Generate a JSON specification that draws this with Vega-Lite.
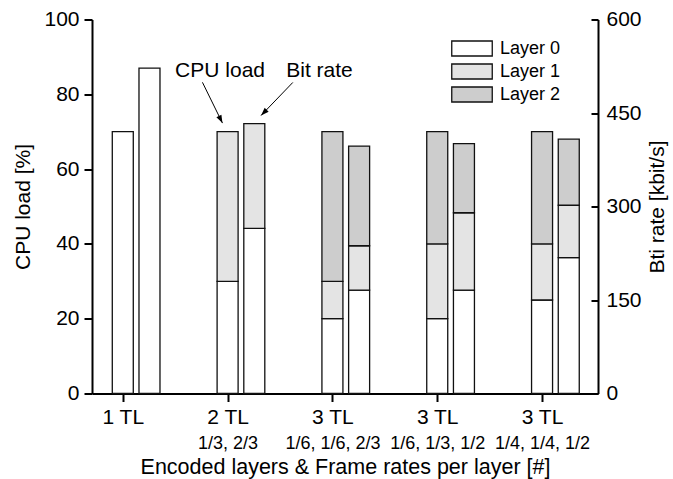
{
  "$schema": "https://vega.github.io/schema/vega-lite/v6.json",
  "width": 506,
  "height": 374,
  "autosize": {"type": "none"},
  "padding": {"left": 92, "top": 19.5, "right": 75, "bottom": 85.5},
  "background": "white",
  "config": {
    "font": "Liberation Sans",
    "view": {"stroke": null},
    "axis": {
      "domainColor": "#000", "domainWidth": 2, "tickColor": "#000", "tickWidth": 2,
      "labelColor": "#000", "titleColor": "#000", "labelFont": "Liberation Sans", "titleFont": "Liberation Sans",
      "labelFontSize": 21, "titleFontSize": 21, "titleFontWeight": "normal", "grid": false,
      "labelOverlap": false, "labelFlush": false, "labelBound": false
    }
  },
  "datasets": {
    "bars": [
      {"cfg": 1, "layers": "1 TL", "rates": "", "measure": "CPU load", "layer": "Layer 0", "value": 70},
      {"cfg": 1, "layers": "1 TL", "rates": "", "measure": "Bit rate", "layer": "Layer 0", "value": 522},
      {"cfg": 2, "layers": "2 TL", "rates": "1/3, 2/3", "measure": "CPU load", "layer": "Layer 0", "value": 30},
      {"cfg": 2, "layers": "2 TL", "rates": "1/3, 2/3", "measure": "CPU load", "layer": "Layer 1", "value": 40},
      {"cfg": 2, "layers": "2 TL", "rates": "1/3, 2/3", "measure": "Bit rate", "layer": "Layer 0", "value": 265},
      {"cfg": 2, "layers": "2 TL", "rates": "1/3, 2/3", "measure": "Bit rate", "layer": "Layer 1", "value": 168},
      {"cfg": 3, "layers": "3 TL", "rates": "1/6, 1/6, 2/3", "measure": "CPU load", "layer": "Layer 0", "value": 20},
      {"cfg": 3, "layers": "3 TL", "rates": "1/6, 1/6, 2/3", "measure": "CPU load", "layer": "Layer 1", "value": 10},
      {"cfg": 3, "layers": "3 TL", "rates": "1/6, 1/6, 2/3", "measure": "CPU load", "layer": "Layer 2", "value": 40},
      {"cfg": 3, "layers": "3 TL", "rates": "1/6, 1/6, 2/3", "measure": "Bit rate", "layer": "Layer 0", "value": 166},
      {"cfg": 3, "layers": "3 TL", "rates": "1/6, 1/6, 2/3", "measure": "Bit rate", "layer": "Layer 1", "value": 71},
      {"cfg": 3, "layers": "3 TL", "rates": "1/6, 1/6, 2/3", "measure": "Bit rate", "layer": "Layer 2", "value": 160},
      {"cfg": 4, "layers": "3 TL", "rates": "1/6, 1/3, 1/2", "measure": "CPU load", "layer": "Layer 0", "value": 20},
      {"cfg": 4, "layers": "3 TL", "rates": "1/6, 1/3, 1/2", "measure": "CPU load", "layer": "Layer 1", "value": 20},
      {"cfg": 4, "layers": "3 TL", "rates": "1/6, 1/3, 1/2", "measure": "CPU load", "layer": "Layer 2", "value": 30},
      {"cfg": 4, "layers": "3 TL", "rates": "1/6, 1/3, 1/2", "measure": "Bit rate", "layer": "Layer 0", "value": 166},
      {"cfg": 4, "layers": "3 TL", "rates": "1/6, 1/3, 1/2", "measure": "Bit rate", "layer": "Layer 1", "value": 124},
      {"cfg": 4, "layers": "3 TL", "rates": "1/6, 1/3, 1/2", "measure": "Bit rate", "layer": "Layer 2", "value": 111},
      {"cfg": 5, "layers": "3 TL", "rates": "1/4, 1/4, 1/2", "measure": "CPU load", "layer": "Layer 0", "value": 25},
      {"cfg": 5, "layers": "3 TL", "rates": "1/4, 1/4, 1/2", "measure": "CPU load", "layer": "Layer 1", "value": 15},
      {"cfg": 5, "layers": "3 TL", "rates": "1/4, 1/4, 1/2", "measure": "CPU load", "layer": "Layer 2", "value": 30},
      {"cfg": 5, "layers": "3 TL", "rates": "1/4, 1/4, 1/2", "measure": "Bit rate", "layer": "Layer 0", "value": 218},
      {"cfg": 5, "layers": "3 TL", "rates": "1/4, 1/4, 1/2", "measure": "Bit rate", "layer": "Layer 1", "value": 84},
      {"cfg": 5, "layers": "3 TL", "rates": "1/4, 1/4, 1/2", "measure": "Bit rate", "layer": "Layer 2", "value": 106}
    ],
    "notes": [
      {"measure": "CPU load", "text": "CPU load", "tx": 1.928, "ty": 84.7, "x0": 1.76, "y0": 83.2, "x1": 1.951, "y1": 72.3},
      {"measure": "Bit rate", "text": "Bit rate", "tx": 2.877, "ty": 508, "x0": 2.622, "y0": 499, "x1": 2.319, "y1": 446}
    ]
  },
  "layer": [
    {
      "data": {"name": "bars"},
      "transform": [{"filter": "datum.measure === 'CPU load'"}],
      "mark": {"type": "bar", "width": 21, "stroke": "#111", "strokeWidth": 1.3},
      "encoding": {
        "x": {"field": "cfg", "type": "quantitative",
          "scale": {"domain": [0.754, 5.486], "nice": false, "zero": false},
          "axis": {"orient": "bottom", "values": [1, 2, 3, 4, 5],
            "labelExpr": "['', '1 TL', '2 TL', '3 TL', '3 TL', '3 TL'][datum.value]",
            "tickSize": 8, "labelPadding": 5, "title": null}},
        "y": {"field": "value", "type": "quantitative", "stack": "zero",
          "scale": {"domain": [0, 100], "nice": false},
          "axis": {"orient": "left", "values": [0, 20, 40, 60, 80, 100], "tickSize": 8, "labelPadding": 5,
            "title": "CPU load [%]", "titlePadding": 10}},
        "fill": {"field": "layer", "type": "nominal",
          "scale": {"domain": ["Layer 0", "Layer 1", "Layer 2"], "range": ["#ffffff", "#e4e4e4", "#cdcdcd"]},
          "legend": {"orient": "none", "legendX": 371, "legendY": 20, "title": null,
            "symbolType": "M-2.7,-1H2.7V1H-2.7Z", "symbolSize": 225,
            "symbolStrokeColor": "#111", "symbolStrokeWidth": 1.3,
            "labelFontSize": 18, "labelFont": "Liberation Sans", "labelColor": "#000",
            "labelOffset": 19, "rowPadding": 1, "padding": 0}},
        "order": {"field": "layer"}
      }
    },
    {
      "data": {"name": "bars"},
      "transform": [{"filter": "datum.measure === 'Bit rate'"}],
      "mark": {"type": "bar", "width": 21, "xOffset": 26.7, "stroke": "#111", "strokeWidth": 1.3},
      "encoding": {
        "x": {"field": "cfg", "type": "quantitative",
          "scale": {"domain": [0.754, 5.486], "nice": false, "zero": false},
          "axis": {"orient": "bottom", "values": [1, 2, 3, 4, 5],
            "labelExpr": "['', '', '1/3, 2/3', '1/6, 1/6, 2/3', '1/6, 1/3, 1/2', '1/4, 1/4, 1/2'][datum.value]",
            "ticks": false, "tickSize": 0, "domain": false, "labelPadding": 41, "labelFontSize": 18,
            "title": "Encoded layers & Frame rates per layer [#]", "titleFontSize": 21.5, "titlePadding": 4}},
        "y": {"field": "value", "type": "quantitative", "stack": "zero",
          "scale": {"domain": [0, 600], "nice": false},
          "axis": {"orient": "right", "values": [0, 150, 300, 450, 600], "tickSize": -7, "labelPadding": 15,
            "title": "Bti rate [kbit/s]", "titleAngle": -90, "titleBaseline": "top", "titlePadding": 5}},
        "fill": {"field": "layer", "type": "nominal"},
        "order": {"field": "layer"}
      }
    },
    {
      "data": {"name": "notes"},
      "transform": [{"filter": "datum.measure === 'CPU load'"}],
      "layer": [
        {
          "mark": {"type": "text", "fontSize": 21, "align": "center", "baseline": "alphabetic", "color": "#000"},
          "encoding": {
            "x": {"field": "tx", "type": "quantitative",
              "scale": {"domain": [0.754, 5.486], "nice": false, "zero": false},
              "axis": {"orient": "top", "values": [1, 2, 3, 4, 5], "labels": false, "tickSize": -7, "title": null}},
            "y": {"field": "ty", "type": "quantitative", "scale": {"domain": [0, 100], "nice": false},
              "axis": {"orient": "left", "values": [10, 30, 50, 70, 90], "labels": false, "domain": false, "tickSize": 6, "title": null}},
            "text": {"field": "text"}
          }
        },
        {
          "mark": {"type": "rule", "color": "#000", "strokeWidth": 1},
          "encoding": {
            "x": {"field": "x0", "type": "quantitative", "scale": {"domain": [0.754, 5.486], "nice": false, "zero": false}, "axis": null},
            "y": {"field": "y0", "type": "quantitative", "scale": {"domain": [0, 100], "nice": false}, "axis": null},
            "x2": {"field": "x1"},
            "y2": {"field": "y1"}
          }
        },
        {
          "mark": {"type": "point", "shape": "M0,0L-0.35,-1L0.35,-1Z", "filled": true, "color": "#000", "opacity": 1, "size": 256, "angle": 333.4},
          "encoding": {
            "x": {"field": "x1", "type": "quantitative", "scale": {"domain": [0.754, 5.486], "nice": false, "zero": false}, "axis": null},
            "y": {"field": "y1", "type": "quantitative", "scale": {"domain": [0, 100], "nice": false}, "axis": null}
          }
        }
      ]
    },
    {
      "data": {"name": "notes"},
      "transform": [{"filter": "datum.measure === 'Bit rate'"}],
      "layer": [
        {
          "mark": {"type": "text", "fontSize": 21, "align": "center", "baseline": "alphabetic", "color": "#000"},
          "encoding": {
            "x": {"field": "tx", "type": "quantitative",
              "scale": {"domain": [0.754, 5.486], "nice": false, "zero": false}, "axis": null},
            "y": {"field": "ty", "type": "quantitative", "scale": {"domain": [0, 600], "nice": false},
              "axis": {"orient": "right", "values": [75, 225, 375, 525], "labels": false, "domain": false, "tickSize": -4, "title": null}},
            "text": {"field": "text"}
          }
        },
        {
          "mark": {"type": "rule", "color": "#000", "strokeWidth": 1},
          "encoding": {
            "x": {"field": "x0", "type": "quantitative", "scale": {"domain": [0.754, 5.486], "nice": false, "zero": false}, "axis": null},
            "y": {"field": "y0", "type": "quantitative", "scale": {"domain": [0, 600], "nice": false}, "axis": null},
            "x2": {"field": "x1"},
            "y2": {"field": "y1"}
          }
        },
        {
          "mark": {"type": "point", "shape": "M0,0L-0.35,-1L0.35,-1Z", "filled": true, "color": "#000", "opacity": 1, "size": 256, "angle": 44.5},
          "encoding": {
            "x": {"field": "x1", "type": "quantitative", "scale": {"domain": [0.754, 5.486], "nice": false, "zero": false}, "axis": null},
            "y": {"field": "y1", "type": "quantitative", "scale": {"domain": [0, 600], "nice": false}, "axis": null}
          }
        }
      ]
    }
  ],
  "resolve": {"scale": {"y": "independent"}, "axis": {"x": "independent", "y": "independent"}}
}
